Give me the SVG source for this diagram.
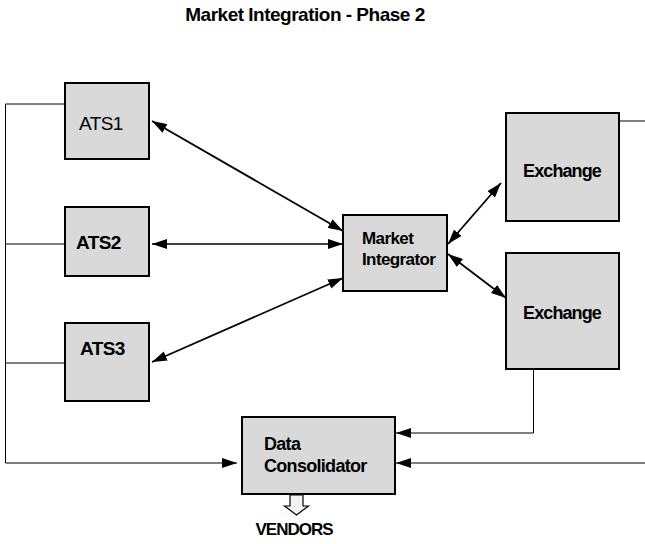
<svg xmlns="http://www.w3.org/2000/svg" width="645" height="544" viewBox="0 0 645 544">
  <style>
    .box { fill: #d9d9d9; stroke: #000; stroke-width: 2; }
    .lbl { font-family: "Liberation Sans", Arial, sans-serif; font-size: 18px; fill: #000; }
    .b { font-weight: bold; }
    .ats { font-size: 19px; letter-spacing: -0.6px; }
    .mi { font-size: 17px; letter-spacing: -0.6px; }
    .ex { font-size: 18px; letter-spacing: -0.9px; }
    .dc { font-size: 18px; letter-spacing: -0.7px; }
    .wire { fill: none; stroke: #000; stroke-width: 1; }
    .link { fill: none; stroke: #000; stroke-width: 1.8; }
    .arr { marker-end: url(#head); }
    .dbl { marker-start: url(#head); marker-end: url(#head); }
  </style>
  <defs>
    <marker id="head" markerUnits="userSpaceOnUse" markerWidth="15" markerHeight="10" refX="15" refY="5" orient="auto-start-reverse" viewBox="0 0 15 10">
      <path d="M0,0 L15,5 L0,10 z" fill="#000"/>
    </marker>
  </defs>

  <text class="lbl b" x="305" y="21" text-anchor="middle" style="font-size:19px;letter-spacing:-0.5px">Market Integration - Phase 2</text>

  <g id="connectors">
    <!-- shared bus on the left feeding the consolidator -->
    <polyline class="wire" points="65,104 5.5,104 5.5,463"/>
    <line class="wire" x1="5.5" y1="244" x2="65" y2="244"/>
    <line class="wire" x1="5.5" y1="363" x2="65" y2="363"/>
    <line class="wire arr" x1="5.5" y1="463" x2="237" y2="463"/>
    <!-- right-hand feeds -->
    <line class="wire" x1="619" y1="121" x2="645" y2="121"/>
    <polyline class="wire arr" points="533.5,369 533.5,433 396,433"/>
    <line class="wire arr" x1="645" y1="463" x2="396" y2="463"/>
    <!-- two-way links to the integrator -->
    <line class="link dbl" x1="152" y1="121" x2="343" y2="231"/>
    <line class="link dbl" x1="152" y1="244" x2="343" y2="244" style="stroke-width:1.4"/>
    <line class="link dbl" x1="152" y1="362" x2="343" y2="278"/>
    <line class="link dbl" x1="448" y1="244" x2="501" y2="183"/>
    <line class="link dbl" x1="448" y1="254" x2="506" y2="298"/>
    <!-- output to vendors -->
    <path d="M290,495 L303,495 L303,506 L308.5,506 L296.5,515 L284.5,506 L290,506 z" fill="#f2f2f2" stroke="#000" stroke-width="1.2"/>
  </g>

  <g id="ats1">
    <rect class="box" x="65" y="83" width="84" height="76"/>
    <text class="lbl ats" x="79" y="130">ATS1</text>
  </g>
  <g id="ats2">
    <rect class="box" x="65" y="207" width="84" height="69"/>
    <text class="lbl b ats" x="76" y="249">ATS2</text>
  </g>
  <g id="ats3">
    <rect class="box" x="65" y="323" width="84" height="78"/>
    <text class="lbl b ats" x="80" y="355">ATS3</text>
  </g>
  <g id="market-integrator">
    <rect class="box" x="343" y="215" width="104" height="76"/>
    <text class="lbl b mi" x="362" y="244">Market</text>
    <text class="lbl b mi" x="362" y="265">Integrator</text>
  </g>
  <g id="exchange-1">
    <rect class="box" x="506" y="113" width="113" height="108"/>
    <text class="lbl b ex" x="562" y="177" text-anchor="middle">Exchange</text>
  </g>
  <g id="exchange-2">
    <rect class="box" x="506" y="253" width="113" height="116"/>
    <text class="lbl b ex" x="562" y="319" text-anchor="middle">Exchange</text>
  </g>
  <g id="data-consolidator">
    <rect class="box" x="242" y="417" width="153" height="77"/>
    <text class="lbl b dc" x="264" y="450">Data</text>
    <text class="lbl b dc" x="264" y="472">Consolidator</text>
  </g>
  <g id="vendors">
    <text class="lbl b" x="294" y="535" text-anchor="middle" style="font-size:17px;letter-spacing:-1px">VENDORS</text>
  </g>
</svg>
